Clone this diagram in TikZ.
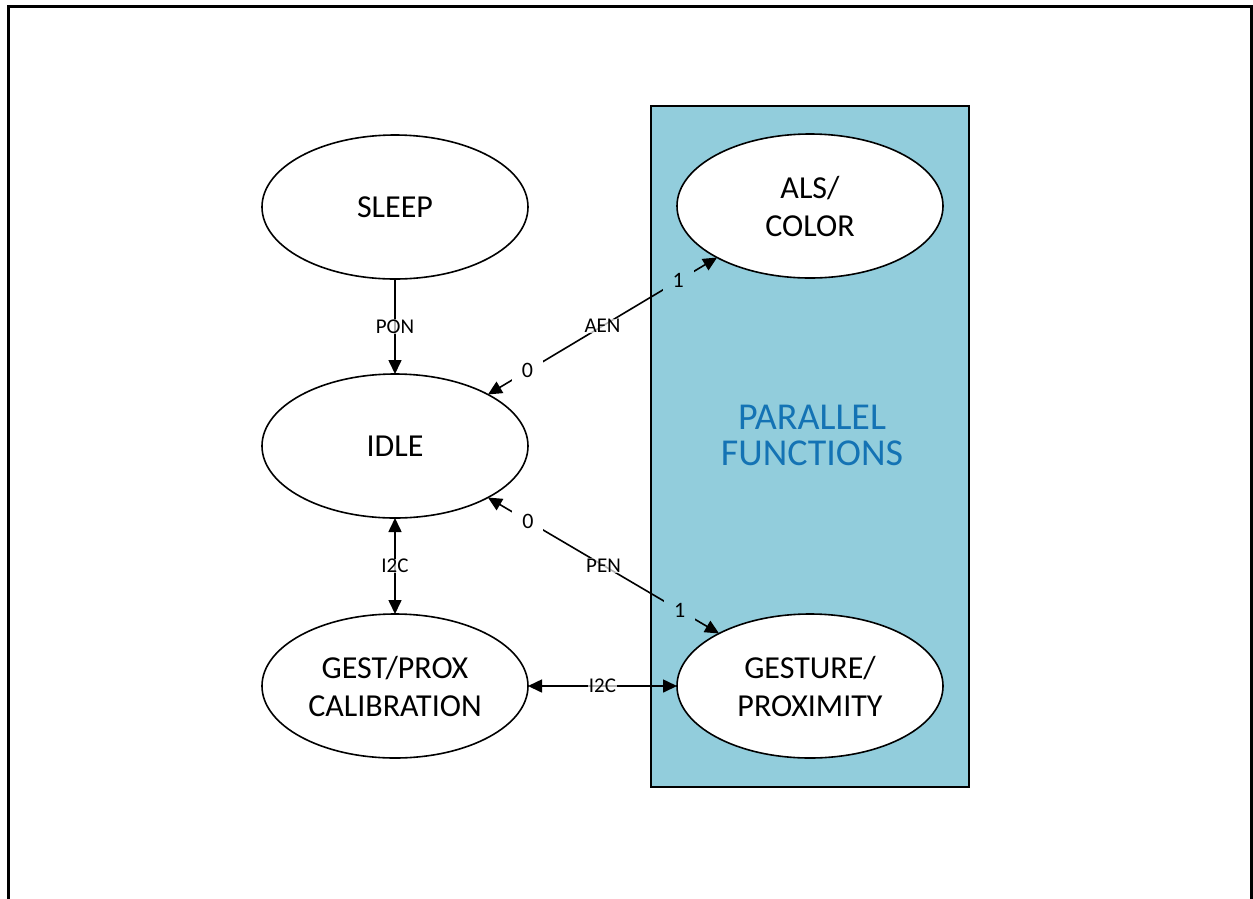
\documentclass[tikz,border=0pt]{standalone}
\usepackage{fontspec}
\setmainfont{Carlito}
\usetikzlibrary{arrows.meta,shapes.geometric}
\definecolor{parblue}{RGB}{146,205,220}
\definecolor{partext}{RGB}{20,115,180}
\tikzset{
  state/.style={ellipse, draw, line width=1.6pt, fill=white, minimum width=266pt, minimum height=144pt,
    inner sep=0pt, outer sep=0pt, align=center, font=\fontsize{32}{38}\selectfont},
  conn/.style={line width=1.6pt, -{Triangle[length=14pt,width=13pt]}},
  bconn/.style={line width=1.6pt, {Triangle[length=14pt,width=13pt]}-{Triangle[length=14pt,width=13pt]}},
  lbl/.style={font=\fontsize{21}{25}\selectfont, inner sep=0.5pt, fill=white, fill opacity=0.7, text opacity=1},
  numw/.style={font=\fontsize{22}{25}\selectfont, inner sep=10pt, fill=white},
  numb/.style={font=\fontsize{22}{25}\selectfont, inner sep=10pt, fill=parblue},
}
\begin{document}
\begin{tikzpicture}[x=1pt,y=-1pt]
\useasboundingbox (0,0) rectangle (1253,898);
% frame
\draw[line width=3pt] (8,900) -- (8,6) -- (1251,6) -- (1251,900);
% parallel region
\node[draw, line width=1.5pt, fill=parblue, minimum width=318pt, minimum height=681pt, inner sep=0pt, outer sep=0pt] (par) at (810,446.5) {};
\node[text=partext, align=center, font=\fontsize{38}{36}\selectfont] (partxt) at (812,435) {PARALLEL\\FUNCTIONS};
% states
\node[state] (sleep) at (395,207) {SLEEP};
\node[state] (idle) at (395,446) {IDLE};
\node[state] (cal) at (395,686) {GEST/PROX\\CALIBRATION};
\node[state] (als) at (810,206) {ALS/\\COLOR};
\node[state] (gest) at (810,686) {GESTURE/\\PROXIMITY};
% connectors
\draw[conn] (sleep.south) -- node[lbl] (pon) {PON} (idle.north);
\draw[bconn] (idle.south) -- node[lbl] (i2ca) {I2C} (cal.north);
\draw[bconn] (cal.east) -- node[lbl] (i2cb) {I2C} (gest.west);
\draw[bconn] (idle.29.5) --
  node[numw, pos=0.173] (a0) {0}
  node[lbl, pos=0.5] (aen) {AEN}
  node[numb, pos=0.83] (a1) {1} (als.209.5);
\draw[bconn] (idle.-29.5) --
  node[numw, pos=0.173] (p0) {0}
  node[lbl, pos=0.5] (pen) {PEN}
  node[numb, pos=0.83] (p1) {1} (gest.150.5);
\end{tikzpicture}
\end{document}
